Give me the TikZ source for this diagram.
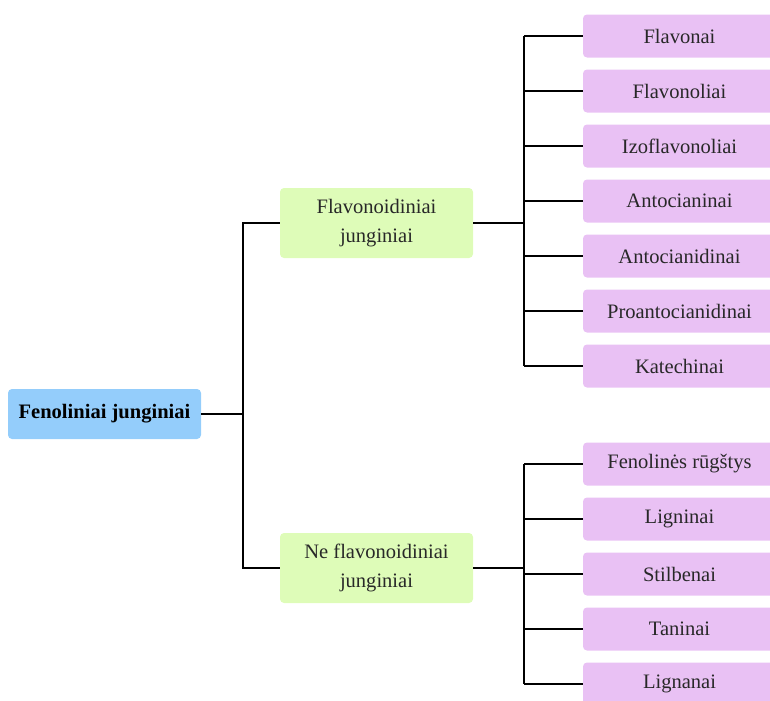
\documentclass[tikz,border=0pt]{standalone}
\usepackage{fontspec}
\setmainfont{Liberation Serif}
\usetikzlibrary{positioning}
\definecolor{root-blue}{RGB}{148, 205, 251}
\definecolor{group-green}{RGB}{222, 252, 184}
\definecolor{leaf-purple}{RGB}{233, 193, 244}
\definecolor{text-grey}{RGB}{40, 40, 40}

\begin{document}
\begin{tikzpicture}[x=0.75pt, y=-0.75pt,
    font=\fontsize{15.4}{21.5}\selectfont, text=text-grey,
    rootbox/.style={fill=root-blue, rounded corners=3pt, minimum width=144.75pt, minimum height=37.5pt, text=black, font=\fontsize{15.4}{21.5}\selectfont\bfseries},
    groupbox/.style={fill=group-green, rounded corners=3pt, minimum width=144.75pt, minimum height=52.5pt, align=center},
    leafbox/.style={fill=leaf-purple, rounded corners=3pt, minimum width=144.75pt, minimum height=32.25pt},
    link/.style={line width=1.6pt}]
                \useasboundingbox (0,0) rectangle (770,700);
                \node[rootbox] (feno) at (104.5,414) {Fenoliniai junginiai};
                \node[groupbox] (flav) at (376.5,223) {Flavonoidiniai\\junginiai};
                \node[groupbox] (nefl) at (376.5,568) {Ne flavonoidiniai\\junginiai};
                \foreach \name/\label [count=\i] in {flavonai/Flavonai, flavonoliai/Flavonoliai,
                        izoflav/Izoflavonoliai, antocianinai/Antocianinai,
                        antocianidinai/Antocianidinai, proanto/Proantocianidinai, katech/Katechinai}
                    \node[leafbox] (\name) at (679.5,{36+55*(\i-1)}) {\label};
                \foreach \name/\label [count=\i] in {rugstys/Fenolinės rūgštys, ligninai/Ligninai,
                        stilbenai/Stilbenai, taninai/Taninai, lignanai/Lignanai}
                    \node[leafbox] (\name) at (679.5,{464+55*(\i-1)}) {\label};
                \coordinate (s0) at (243,414);
                \coordinate (s1) at (524,223);
                \coordinate (s2) at (524,568);
                \draw[link] (feno.east) -- (s0);
                \draw[link] (flav.west) -- (s0 |- flav.west) -- (s0 |- nefl.west) -- (nefl.west);
                \draw[link] (flav.east) -- (s1);
                \draw[link] (nefl.east) -- (s2);
                \draw[link] (s1 |- flavonai.west) -- (s1 |- katech.west);
                \draw[link] (s2 |- rugstys.west) -- (s2 |- lignanai.west);
                \foreach \name in {flavonai, flavonoliai, izoflav, antocianinai, antocianidinai, proanto, katech}
                    \draw[link] (s1 |- \name.west) -- (\name.west);
                \foreach \name in {rugstys, ligninai, stilbenai, taninai, lignanai}
                    \draw[link] (s2 |- \name.west) -- (\name.west);
\end{tikzpicture}
\end{document}
